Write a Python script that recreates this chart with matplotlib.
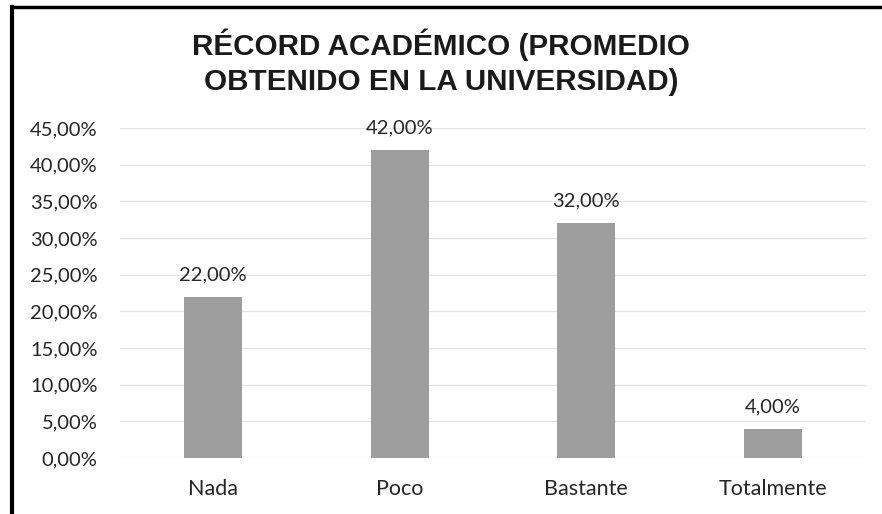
import matplotlib.pyplot as plt
from matplotlib.lines import Line2D

# Data
categories = ['Nada', 'Poco', 'Bastante', 'Totalmente']
values = [22.0, 42.0, 32.0, 4.0]
y_ticks = [0, 5, 10, 15, 20, 25, 30, 35, 40, 45]
title = 'RÉCORD ACADÉMICO (PROMEDIO\nOBTENIDO EN LA UNIVERSIDAD)'


def pct(v):
    return f'{v:.2f}'.replace('.', ',') + '%'


fig = plt.figure(figsize=(8.82, 5.14), dpi=100)
ax = fig.add_axes([0.136, 0.109, 0.846, 0.642])

x = range(len(categories))
ax.bar(x, values, width=0.31, color='#9e9e9e', zorder=3)

for xi, v in zip(x, values):
    ax.annotate(pct(v), (xi, v), xytext=(0, 16), textcoords='offset points',
                ha='center', va='center', fontsize=14.5, family='Lato',
                color='#262626')

ax.set_xlim(-0.5, len(categories) - 0.5)
ax.set_ylim(0, 45)
ax.set_yticks(y_ticks)
ax.set_yticklabels([pct(t) for t in y_ticks], fontsize=14.5, family='Lato', color='#262626')
ax.set_xticks(list(x))
ax.set_xticklabels(categories, fontsize=15.5, family='Lato', color='#262626')
ax.tick_params(length=0)
ax.tick_params(axis='x', pad=15)
ax.tick_params(axis='y', pad=16)

ax.grid(axis='y', color='#e2e2e2', linewidth=0.9, zorder=0)
for s in ax.spines.values():
    s.set_visible(False)

fig.text(0.5, 0.879, title, ha='center', va='center', fontsize=21.3,
         fontweight='bold', family='Liberation Sans', color='#1a1a1a',
         linespacing=1.3)

# scanned page frame: top and left edges
fig.add_artist(Line2D([0.0136, 1.0], [0.986, 0.986], color='black', linewidth=2.5,
                      transform=fig.transFigure))
fig.add_artist(Line2D([0.0136, 0.0136], [0.0, 0.986], color='black', linewidth=3,
                      transform=fig.transFigure))

fig.savefig('out.png', dpi=100)
